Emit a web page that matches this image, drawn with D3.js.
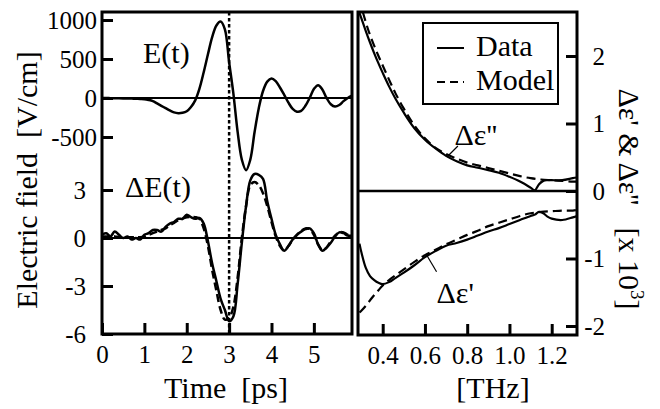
<!DOCTYPE html>
<html><head><meta charset="utf-8">
<script src="https://cdn.jsdelivr.net/npm/d3@7"></script>
<style>
html,body{margin:0;padding:0;background:#fff;}
</style></head>
<body><svg id="c" width="660" height="409"></svg>
<script>
// ---------- data ----------
const timePs = [0,0.1,0.2,0.3,0.4,0.5,0.6,0.7,0.8,0.9,1.0,1.1,1.2,1.3,1.4,1.5,1.6,1.7,1.8,1.9,2.0,2.1,2.2,2.3,2.4,2.5,2.6,2.7,2.8,2.9,3.0,3.1,3.2,3.3,3.4,3.5,3.6,3.7,3.8,3.9,4.0,4.1,4.2,4.3,4.4,4.5,4.6,4.7,4.8,4.9,5.0,5.1,5.2,5.3,5.4,5.5,5.6,5.7,5.8,5.9];
const fieldE = [0,0,-2,-3,-4,-5,-6,-8,-10,-12,-15,-25,-40,-70,-100,-130,-160,-185,-195,-190,-170,-115,-30,120,330,560,780,930,980,880,460,60,-430,-790,-925,-790,-440,-130,90,210,250,215,135,40,-60,-140,-175,-165,-100,0,115,165,110,0,-80,-110,-90,-40,0,30];
const deltaEData = [0.2,0.3,0.1,0.4,0.2,0.0,0.1,-0.1,0.0,-0.1,0.2,0.3,0.5,0.5,0.4,0.7,0.9,1.0,1.2,1.2,1.45,1.3,1.2,1.25,0.9,-0.2,-1.6,-2.7,-3.8,-4.5,-5.2,-4.9,-2.9,-0.3,2.0,3.6,4.0,3.95,3.7,2.3,1.2,0.2,-0.4,-0.8,-0.5,-0.1,0.2,0.4,0.55,0.6,0.3,-0.4,-0.8,-0.6,-0.3,0.1,0.35,0.3,0.15,0.15];
const deltaEModel = [0.1,0.1,0.1,0.1,0.05,0.05,0.05,0.05,0.05,0.05,0.1,0.2,0.3,0.4,0.5,0.6,0.8,0.95,1.1,1.2,1.3,1.32,1.3,1.2,0.6,-0.5,-2.0,-3.3,-4.5,-5.1,-5.0,-4.3,-2.5,0.0,2.0,3.3,3.5,3.3,2.8,2.0,1.0,0.1,-0.5,-0.8,-0.5,-0.1,0.2,0.45,0.6,0.55,0.2,-0.4,-0.75,-0.6,-0.2,0.15,0.35,0.35,0.2,0.15];

const freqData = [0.29,0.30,0.32,0.34,0.36,0.38,0.40,0.43,0.46,0.50,0.55,0.60,0.65,0.70,0.75,0.80,0.85,0.90,0.95,1.00,1.05,1.10,1.12,1.14,1.16,1.18,1.20,1.25,1.30,1.32];
const epsImData = [2.64,2.55,2.37,2.20,2.04,1.89,1.75,1.55,1.37,1.16,0.93,0.76,0.63,0.52,0.44,0.38,0.345,0.31,0.27,0.21,0.14,0.05,0.01,0.10,0.15,0.16,0.16,0.16,0.19,0.20];
const epsReData = [-0.78,-0.92,-1.14,-1.26,-1.32,-1.36,-1.38,-1.35,-1.29,-1.21,-1.10,-0.98,-0.89,-0.81,-0.77,-0.72,-0.66,-0.60,-0.55,-0.49,-0.43,-0.37,-0.35,-0.31,-0.33,-0.38,-0.41,-0.43,-0.39,-0.37];
const freqModel = [0.29,0.30,0.32,0.34,0.36,0.38,0.40,0.43,0.46,0.50,0.55,0.60,0.65,0.70,0.75,0.80,0.85,0.90,0.95,1.00,1.05,1.10,1.15,1.20,1.25,1.30,1.32];
const epsImModel = [2.85,2.72,2.50,2.31,2.15,2.00,1.86,1.65,1.45,1.22,0.97,0.78,0.64,0.55,0.48,0.42,0.38,0.34,0.30,0.26,0.22,0.19,0.17,0.16,0.15,0.14,0.14];
const epsReModel = [-1.80,-1.77,-1.70,-1.62,-1.54,-1.47,-1.40,-1.32,-1.25,-1.16,-1.05,-0.95,-0.87,-0.79,-0.72,-0.65,-0.59,-0.52,-0.47,-0.42,-0.37,-0.33,-0.31,-0.30,-0.29,-0.29,-0.28];

const timeTicks = [0,1,2,3,4,5];
const eTicks = [1000,500,0,-500];
const dTicks = [3,0,-3,-6];
const freqTicks = [0.4,0.6,0.8,1.0,1.2];
const epsTicks = [2,1,0,-1,-2];
const seriesNames = ["Data","Model"];

// ---------- setup ----------
const FONT = "Liberation Serif";
const svg = d3.select("#c");
const L = {x0:102, x1:352, y0:12, y1:334};
const R = {x0:358, x1:577, y0:12, y1:335};

const xT = d3.scaleLinear().domain([0,5.9]).range([L.x0,L.x1]);
const yE = d3.scaleLinear().domain([-500,1000]).range([137,20]);
const yD = d3.scaleLinear().domain([-6,3]).range([334,190]);
const xF = d3.scaleLinear().domain([0.4,1.2]).range([382.7,551.7]);
const yP = d3.scaleLinear().domain([-2,2]).range([326,56]);

const defs = svg.append("defs");
defs.append("clipPath").attr("id","cl").append("rect").attr("x",L.x0).attr("y",L.y0).attr("width",L.x1-L.x0).attr("height",L.y1-L.y0);
defs.append("clipPath").attr("id","cr").append("rect").attr("x",R.x0).attr("y",R.y0).attr("width",R.x1-R.x0).attr("height",R.y1-R.y0);

const TICKF = 25, LABF = 30;
const hy = d => String(d).replace("\u2212","-");
const hy1 = d => d3.format(".1f")(d).replace("\u2212","-");

function styleAxis(g){
  g.attr("font-size",TICKF);
  g.select(".domain").remove();
  g.selectAll(".tick line").attr("stroke","#000").attr("stroke-width",3);
  g.selectAll(".tick text").attr("fill","#000");
}

// ---------- left panel ----------
const gl = svg.append("g");
gl.append("line").attr("x1",L.x0).attr("x2",L.x1).attr("y1",yE(0)).attr("y2",yE(0)).attr("stroke","#000").attr("stroke-width",2.2);
gl.append("line").attr("x1",L.x0).attr("x2",L.x1).attr("y1",yD(0)).attr("y2",yD(0)).attr("stroke","#000").attr("stroke-width",2.2);
gl.append("line").attr("x1",xT(3)).attr("x2",xT(3)).attr("y1",L.y0).attr("y2",L.y1).attr("stroke","#000").attr("stroke-width",2.5).attr("stroke-dasharray","3.5,2.5");

const lineE = d3.line().x((d,i)=>xT(timePs[i])).y(d=>yE(d)).curve(d3.curveCatmullRom.alpha(0.5));
const lineD = d3.line().x((d,i)=>xT(timePs[i])).y(d=>yD(d)).curve(d3.curveCatmullRom.alpha(0.5));
const cl = gl.append("g").attr("clip-path","url(#cl)");
cl.append("path").attr("d",lineE(fieldE)).attr("fill","none").attr("stroke","#000").attr("stroke-width",2.5);
cl.append("path").attr("d",lineD(deltaEModel)).attr("fill","none").attr("stroke","#000").attr("stroke-width",2.5).attr("stroke-dasharray","8,4");
cl.append("path").attr("d",lineD(deltaEData)).attr("fill","none").attr("stroke","#000").attr("stroke-width",2.5);

const axE = gl.append("g").attr("transform",`translate(${L.x0},0)`)
  .call(d3.axisLeft(yE).tickValues(eTicks).tickSizeInner(-11).tickSizeOuter(0).tickPadding(5).tickFormat(hy));
styleAxis(axE);
const axD = gl.append("g").attr("transform",`translate(${L.x0},0)`)
  .call(d3.axisLeft(yD).tickValues(dTicks).tickSizeInner(-11).tickSizeOuter(0).tickPadding(16).tickFormat(hy));
styleAxis(axD);
const axT = gl.append("g").attr("transform",`translate(0,${L.y1})`)
  .call(d3.axisBottom(xT).tickValues(timeTicks).tickSizeInner(-11).tickSizeOuter(0).tickPadding(11).tickFormat(hy));
styleAxis(axT);

gl.append("rect").attr("x",L.x0).attr("y",L.y0).attr("width",L.x1-L.x0).attr("height",L.y1-L.y0).attr("fill","none").attr("stroke","#000").attr("stroke-width",3);

gl.append("text").attr("x",143).attr("y",63).attr("font-size",LABF).text("E(t)");
gl.append("text").attr("x",125).attr("y",197).attr("font-size",LABF).text("\u0394E(t)");
gl.append("text").attr("x",226).attr("y",398).attr("text-anchor","middle").attr("font-size",LABF).attr("xml:space","preserve").text("Time  [ps]");
gl.append("text").attr("transform","translate(37,180) rotate(-90)").attr("text-anchor","middle").attr("font-size",LABF).attr("xml:space","preserve").text("Electric field  [V/cm]");

// ---------- right panel ----------
const gr = svg.append("g");
gr.append("line").attr("x1",R.x0).attr("x2",R.x1).attr("y1",yP(0)).attr("y2",yP(0)).attr("stroke","#000").attr("stroke-width",2.5);
const lineImD = d3.line().x((d,i)=>xF(freqData[i])).y(d=>yP(d)).curve(d3.curveCatmullRom.alpha(0.5));
const lineM = d3.line().x((d,i)=>xF(freqModel[i])).y(d=>yP(d)).curve(d3.curveCatmullRom.alpha(0.5));
const cr = gr.append("g").attr("clip-path","url(#cr)");
cr.append("path").attr("d",lineM(epsImModel)).attr("fill","none").attr("stroke","#000").attr("stroke-width",2.2).attr("stroke-dasharray","9,5");
cr.append("path").attr("d",lineM(epsReModel)).attr("fill","none").attr("stroke","#000").attr("stroke-width",2.2).attr("stroke-dasharray","9,5");
cr.append("path").attr("d",lineImD(epsImData)).attr("fill","none").attr("stroke","#000").attr("stroke-width",2.2);
cr.append("path").attr("d",lineImD(epsReData)).attr("fill","none").attr("stroke","#000").attr("stroke-width",2.2);

const axP = gr.append("g").attr("transform",`translate(${R.x1},0)`)
  .call(d3.axisRight(yP).tickValues(epsTicks).tickSizeInner(-11).tickSizeOuter(0).tickPadding(28).tickFormat(hy));
styleAxis(axP);
axP.selectAll(".tick text").attr("text-anchor","end");
const axF = gr.append("g").attr("transform",`translate(0,${R.y1})`)
  .call(d3.axisBottom(xF).tickValues(freqTicks).tickSizeInner(-11).tickSizeOuter(0).tickPadding(11).tickFormat(hy1));
styleAxis(axF);

gr.append("rect").attr("x",R.x0).attr("y",R.y0).attr("width",R.x1-R.x0).attr("height",R.y1-R.y0).attr("fill","none").attr("stroke","#000").attr("stroke-width",3);

gr.append("line").attr("x1",xF(0.704)).attr("y1",yP(0.504)).attr("x2",xF(0.756)).attr("y2",yP(0.667)).attr("stroke","#000").attr("stroke-width",1.2);
gr.append("text").attr("x",xF(0.74)).attr("y",yP(0.68)).attr("font-size",LABF).text("\u0394\u03b5''");
gr.append("line").attr("x1",xF(0.608)).attr("y1",yP(-0.948)).attr("x2",xF(0.655)).attr("y2",yP(-1.196)).attr("stroke","#000").attr("stroke-width",1.2);
gr.append("text").attr("x",xF(0.655)).attr("y",yP(-1.66)).attr("font-size",LABF).text("\u0394\u03b5'");

gr.append("text").attr("x",493).attr("y",398).attr("text-anchor","middle").attr("font-size",LABF).text("[THz]");
const rl = gr.append("text").attr("transform","translate(619,199) rotate(90)").attr("text-anchor","middle").attr("font-size",LABF).attr("xml:space","preserve");
rl.append("tspan").text("\u0394\u03b5' & \u0394\u03b5''   [x 10");
rl.append("tspan").attr("font-size",19).attr("dy",-12).text("3");
rl.append("tspan").attr("dy",12).text("]");

const lg = gr.append("g");
lg.append("rect").attr("x",423).attr("y",23).attr("width",135).attr("height",81).attr("fill","#fff").attr("stroke","#000").attr("stroke-width",2);
lg.append("line").attr("x1",437).attr("x2",464).attr("y1",48).attr("y2",48).attr("stroke","#000").attr("stroke-width",2);
lg.append("line").attr("x1",437).attr("x2",464).attr("y1",82).attr("y2",82).attr("stroke","#000").attr("stroke-width",2).attr("stroke-dasharray","8,5");
lg.append("text").attr("x",476).attr("y",56).attr("font-size",LABF).text(seriesNames[0]);
lg.append("text").attr("x",476).attr("y",90).attr("font-size",LABF).text(seriesNames[1]);

svg.selectAll("text").attr("font-family",FONT).attr("fill","#000");
</script></body></html>
